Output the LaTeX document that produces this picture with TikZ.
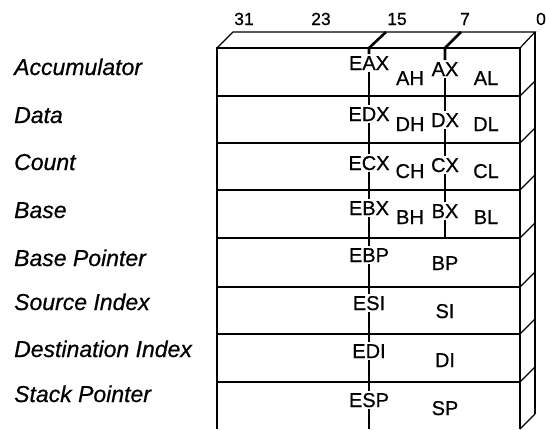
\documentclass[tikz,border=0pt]{standalone}
\usepackage{fontspec}
\setmainfont[FakeBold=0.6]{Liberation Sans}
\begin{document}
\begin{tikzpicture}[x=1pt,y=-1pt,
  edge/.style={line width=1.2pt, line join=miter},
  divider/.style={line width=2.6pt},
  reglabel/.style={font=\fontsize{20}{24}\selectfont, inner sep=2pt, anchor=base},
  rowname/.style={font=\itshape\fontsize{23}{27}\selectfont, anchor=base west, inner sep=0pt},
  bitnum/.style={font=\fontsize{17.5}{20}\selectfont, anchor=base, inner sep=0pt}]
\useasboundingbox (0,0) rectangle (546,429);

% front face with one row per register
\draw[edge] (217,429) -- (217,48) -- (520,48) -- (520,429);
\foreach \y in {96,143,190,238,287,334,382}
  \draw[edge] (217,\y) -- (520,\y);
% top face
\draw[edge] (217,48) -- (233,32) -- (535,32) -- (520,48);
% right side face
\draw[edge] (535,32) -- (535,414);
\foreach \y in {96,143,190,238,287,334,382,429}
  \draw[edge] (520,\y) -- (535,\y-15);

% bit numbers
\node[bitnum] (b31) at (244,25) {31};
\node[bitnum] (b23) at (321,25) {23};
\node[bitnum] (b15) at (397,25) {15};
\node[bitnum] (b7)  at (465,25) {7};
\node[bitnum] (b0)  at (541,25) {0};

% register names
\node[rowname] (nacc) at (14,75)  {Accumulator};
\node[rowname] (ndat) at (14,123) {Data};
\node[rowname] (ncnt) at (14,170) {Count};
\node[rowname] (nbas) at (14,218) {Base};
\node[rowname] (nbp)  at (14,266) {Base Pointer};
\node[rowname] (nsi)  at (14,310) {Source Index};
\node[rowname] (ndi)  at (14,357) {Destination Index};
\node[rowname] (nsp)  at (14,402) {Stack Pointer};

% 32-bit names
\node[reglabel] (eax) at (369,70)  {EAX};
\node[reglabel] (edx) at (369,121) {EDX};
\node[reglabel] (ecx) at (369,170) {ECX};
\node[reglabel] (ebx) at (369,215) {EBX};
\node[reglabel] (ebp) at (369,262) {EBP};
\node[reglabel] (esi) at (369,310) {ESI};
\node[reglabel] (edi) at (369,358) {EDI};
\node[reglabel] (esp) at (369,407) {ESP};

% 16-bit names
\node[reglabel] (ax) at (445,76)  {AX};
\node[reglabel] (dx) at (445,127) {DX};
\node[reglabel] (cx) at (445,172) {CX};
\node[reglabel] (bx) at (445,218) {BX};
\node[reglabel] (bp) at (445,270) {BP};
\node[reglabel] (si) at (445,318) {SI};
\node[reglabel] (di) at (445,367) {DI};
\node[reglabel] (sp) at (445,415) {SP};

% 8-bit names
\node[reglabel] (ah) at (410,85)  {AH};
\node[reglabel] (al) at (486,85)  {AL};
\node[reglabel] (dh) at (410,131) {DH};
\node[reglabel] (dl) at (486,131) {DL};
\node[reglabel] (ch) at (410,178) {CH};
\node[reglabel] (cl) at (486,178) {CL};
\node[reglabel] (bh) at (410,224) {BH};
\node[reglabel] (bl) at (486,224) {BL};

% bit 16 and bit 8 boundaries
\coordinate (etop) at (369,48);
\coordinate (eback) at (386,32);
\coordinate (ebot) at (369,429);
\coordinate (xtop) at (445,48);
\coordinate (xback) at (461,32);
\coordinate (xbot) at (445,238);

\draw[divider] (eback) -- (etop) -- (eax.north);
\draw[divider] (eax.south) -- (edx.north);
\draw[divider] (edx.south) -- (ecx.north);
\draw[divider] (ecx.south) -- (ebx.north);
\draw[divider] (ebx.south) -- (ebp.north);
\draw[divider] (ebp.south) -- (esi.north);
\draw[divider] (esi.south) -- (edi.north);
\draw[divider] (edi.south) -- (esp.north);
\draw[divider] (esp.south) -- (ebot);

\draw[divider] (xback) -- (xtop) -- (ax.north);
\draw[divider] (ax.south) -- (dx.north);
\draw[divider] (dx.south) -- (cx.north);
\draw[divider] (cx.south) -- (bx.north);
\draw[divider] (bx.south) -- (xbot);
\end{tikzpicture}
\end{document}
